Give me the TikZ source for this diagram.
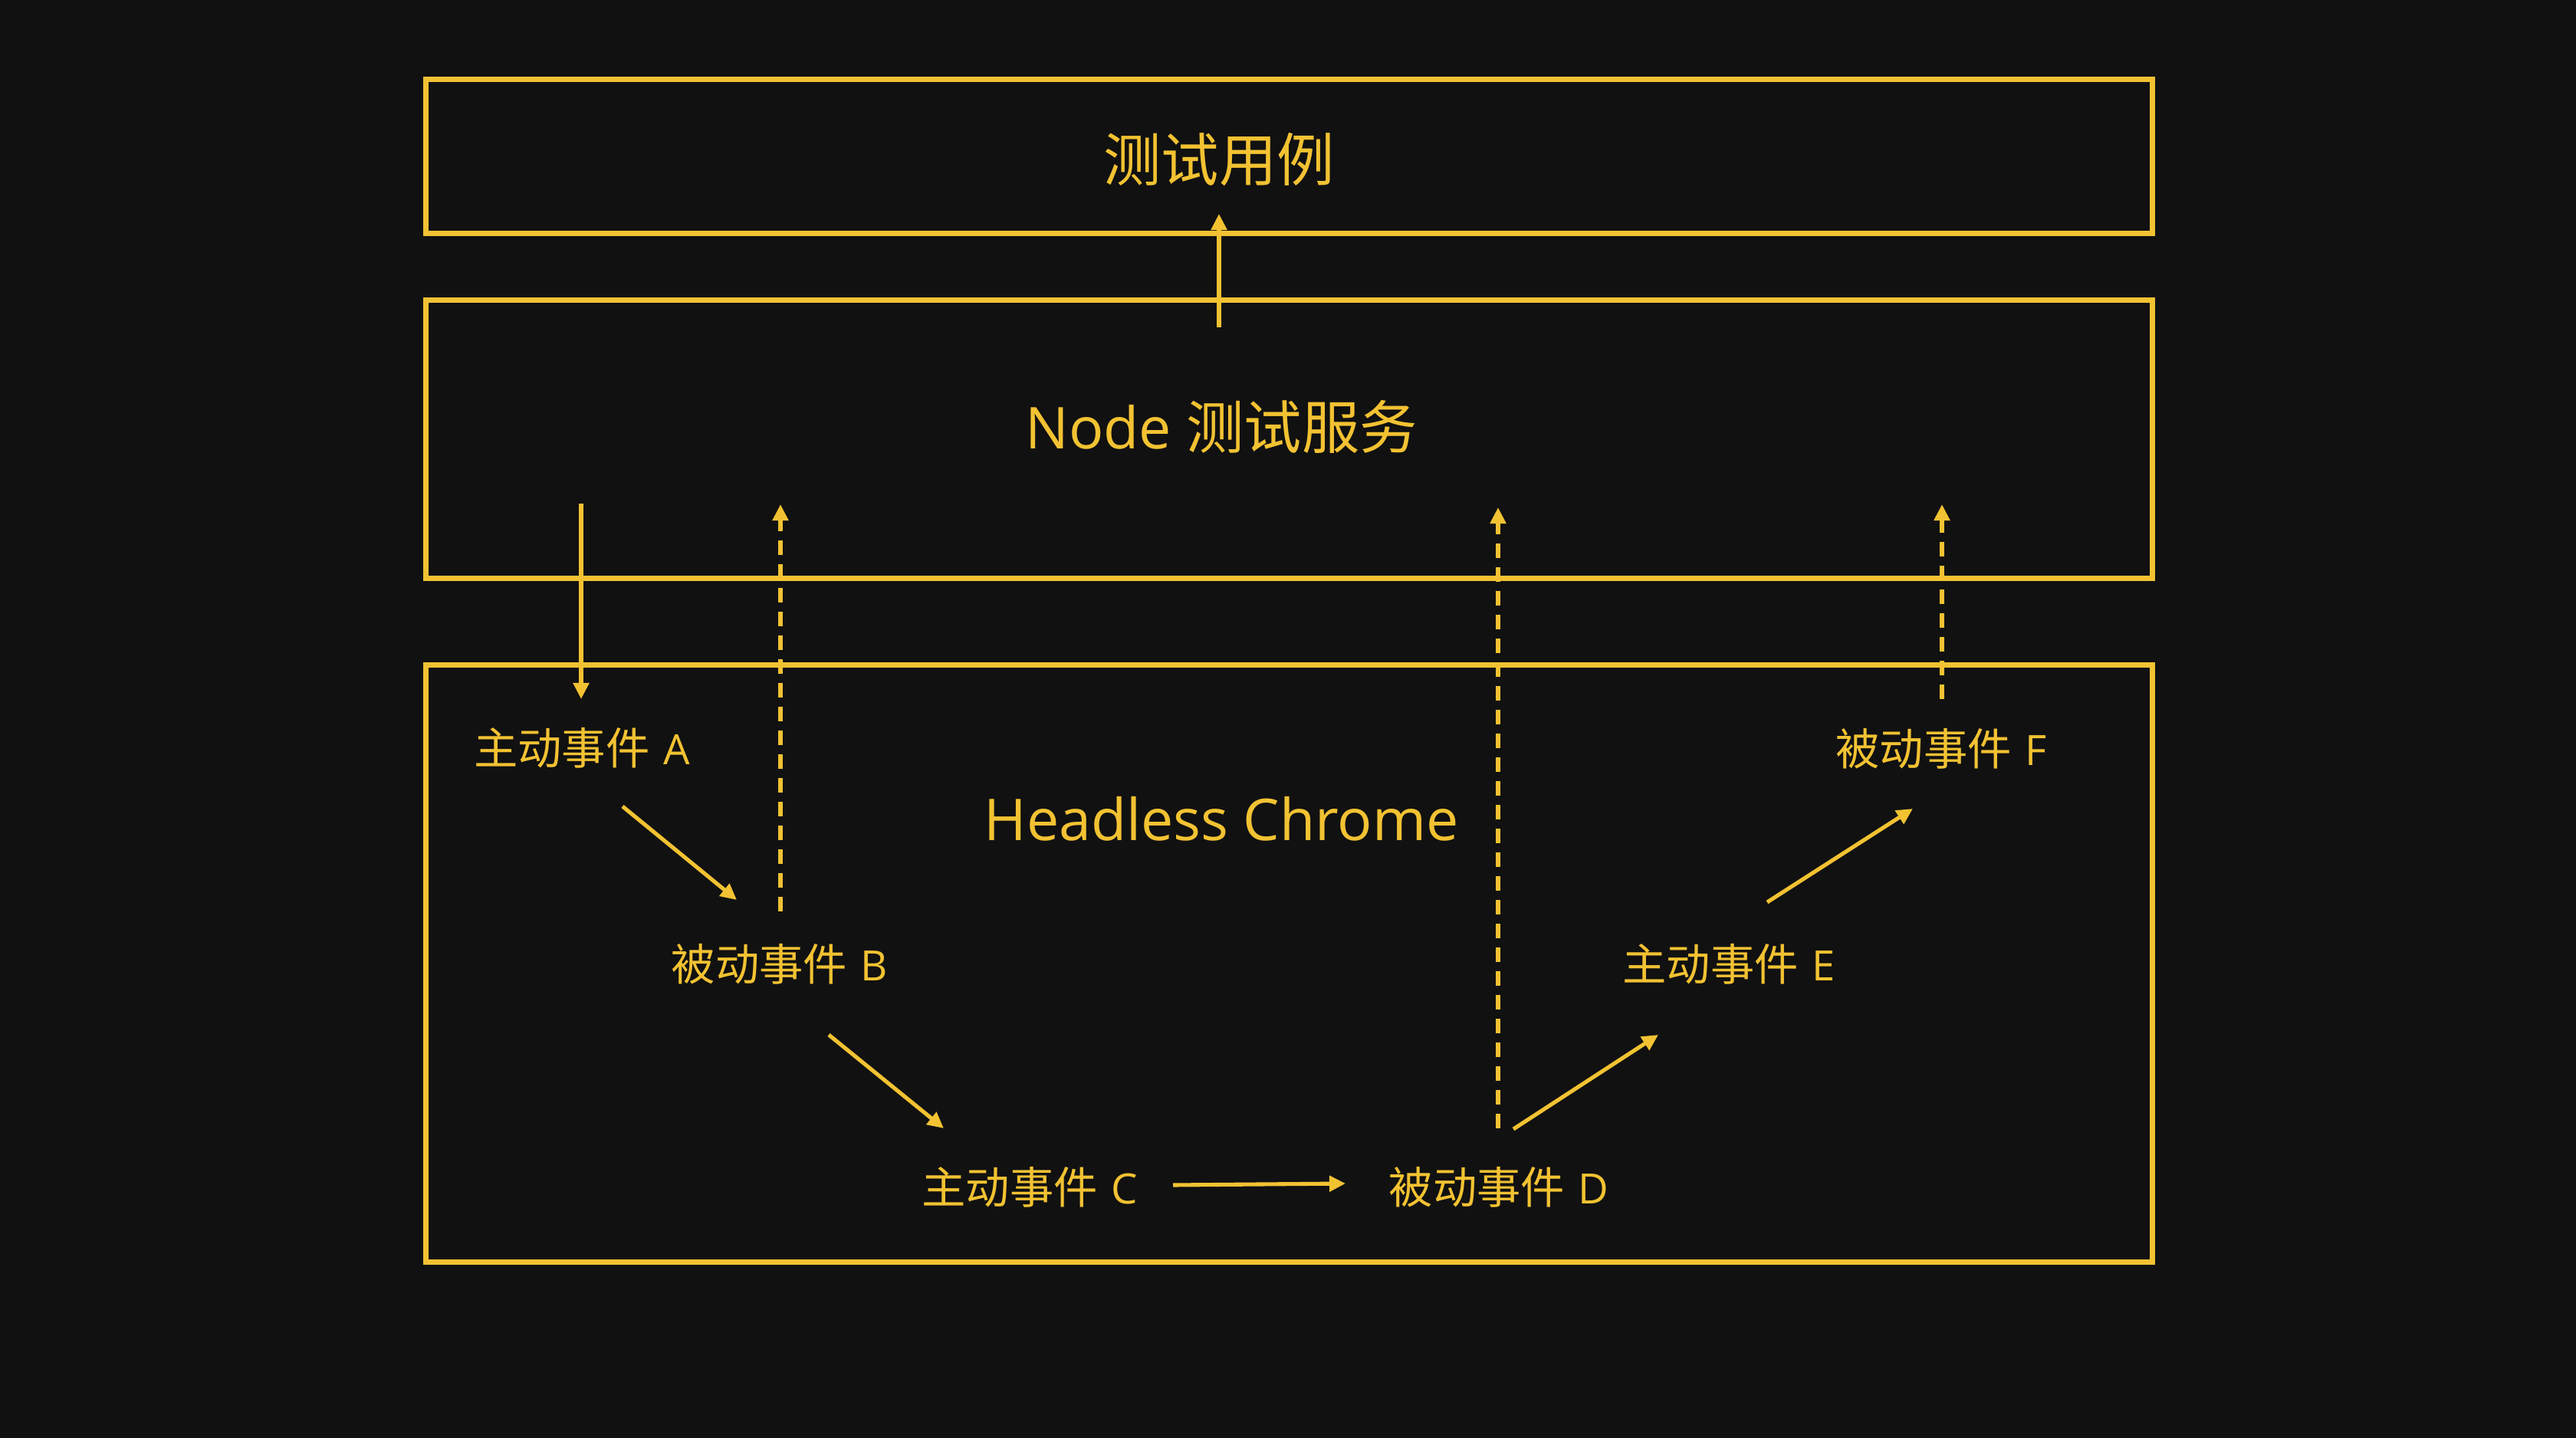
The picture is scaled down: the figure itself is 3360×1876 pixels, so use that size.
\documentclass[tikz,border=0pt]{standalone}
\usepackage{fontspec}
\setmainfont{Open Sans}
\newfontfamily\cjk{Noto Sans CJK SC}
\usetikzlibrary{arrows.meta}
\definecolor{bgc}{HTML}{111111}
\definecolor{ylw}{HTML}{F2C232}
\newcommand{\bigtxt}{\fontsize{21.4}{25}\selectfont}
\newcommand{\evtlabel}[2]{{\fontsize{16.3}{19}\selectfont\cjk #1}\hspace{5pt}{\fontsize{15.5}{19}\selectfont #2}}
\begin{document}
\begin{tikzpicture}[x=0.01cm,y=-0.01cm,
  boxnode/.style={draw=ylw,line width=2pt,rectangle,inner sep=0pt,outer sep=0pt},
  bigtext/.style={text=ylw,inner sep=0pt,font=\bigtxt},
  evt/.style={text=ylw,inner sep=0pt},
  conn/.style={draw=ylw,line width=1.45pt,-{Triangle[length=0.21cm,width=0.2cm]}},
  dconn/.style={conn,dash pattern=on 0.19cm off 0.12cm}]
\fill[bgc] (0,0) rectangle (3360,1876);
\useasboundingbox (0,0) rectangle (3360,1876);
% boxes
\node[boxnode,minimum width=22.51cm,minimum height=2cm] (tc) at (1681.5,204) {};
\node[boxnode,minimum width=22.51cm,minimum height=3.62cm] (ns) at (1681.5,573) {};
\node[boxnode,minimum width=22.51cm,minimum height=7.78cm] (hc) at (1681.5,1257) {};
% titles
\node[bigtext] (tct) at (1590,208) {\cjk 测试用例};
\node[bigtext] (nst) at (1593,557) {Node {\cjk 测试服务}};
\node[bigtext] (hct) at (1593,1068) {Headless Chrome};
% events
\node[evt] (A) at (759,976) {\evtlabel{主动事件}{A}};
\node[evt] (B) at (1017,1258) {\evtlabel{被动事件}{B}};
\node[evt] (C) at (1343,1549) {\evtlabel{主动事件}{C}};
\node[evt] (D) at (1955,1549) {\evtlabel{被动事件}{D}};
\node[evt] (E) at (2255,1258) {\evtlabel{主动事件}{E}};
\node[evt] (F) at (2532,977) {\evtlabel{被动事件}{F}};
% connector ends
\coordinate (t0) at (1590,427); \coordinate (t1) at (1590,279);
\coordinate (a0) at (758,657); \coordinate (a1) at (758,912);
\coordinate (b0) at (1018,1189); \coordinate (b1) at (1018,658);
\coordinate (d0) at (1954,1472); \coordinate (d1) at (1954,662);
\coordinate (f0) at (2533,912); \coordinate (f1) at (2533,658);
\coordinate (ab0) at (812,1052); \coordinate (ab1) at (961,1174);
\coordinate (bc0) at (1081,1350); \coordinate (bc1) at (1231,1472);
\coordinate (cd0) at (1530,1546); \coordinate (cd1) at (1755,1544);
\coordinate (de0) at (1974,1473); \coordinate (de1) at (2163,1350);
\coordinate (ef0) at (2305,1177); \coordinate (ef1) at (2495,1055);
% connectors
\draw[conn] (t0) -- (t1);
\draw[conn] (a0) -- (a1);
\draw[dconn] (b0) -- (b1);
\draw[dconn] (d0) -- (d1);
\draw[dconn] (f0) -- (f1);
\draw[conn] (ab0) -- (ab1);
\draw[conn] (bc0) -- (bc1);
\draw[conn] (cd0) -- (cd1);
\draw[conn] (de0) -- (de1);
\draw[conn] (ef0) -- (ef1);
\end{tikzpicture}
\end{document}
